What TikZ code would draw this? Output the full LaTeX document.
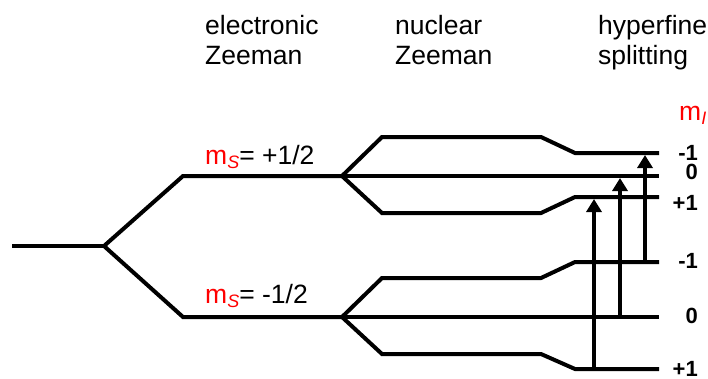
\documentclass[tikz,border=0pt]{standalone}
\usepackage{fontspec}
\setmainfont{Liberation Sans}
\usetikzlibrary{arrows.meta}
\tikzset{
  level/.style={line width=4pt, line cap=butt, line join=miter},
  trans/.style={line width=4pt, -{Triangle[length=13pt,width=15pt]}},
  head/.style={anchor=base west, inner sep=0pt, font=\fontsize{26.5}{30}\selectfont},
  mlab/.style={anchor=base west, inner sep=0pt, font=\fontsize{26.5}{30}\selectfont},
  num/.style={anchor=base east, inner sep=0pt, font=\fontsize{22}{24}\selectfont\bfseries}
}
\newcommand{\msub}[1]{\raisebox{-4pt}{\fontsize{18}{18}\selectfont\itshape #1}}
\begin{document}
\begin{tikzpicture}[x=1pt,y=-1pt]
\useasboundingbox (0,0) rectangle (708,378);
% headers
\node[head] (h1a) at (205,34) {electronic};
\node[head] (h1b) at (205,64) {Zeeman};
\node[head] (h2a) at (395,34) {nuclear};
\node[head] (h2b) at (395,64) {Zeeman};
\node[head] (h3a) at (598,34) {hyperfine};
\node[head] (h3b) at (598,64) {splitting};
% m_I label
\node[mlab, text=red] (mI) at (679,120) {m\msub{I}};
% ground level and electronic Zeeman
\coordinate (g0) at (12,246);
\coordinate (g1) at (104,246);
\draw[level] (g0) -- (g1);
\draw[level] (g1) -- (183,176) -- (342,176);
\draw[level] (g1) -- (183,317) -- (342,317);
\node[mlab] (msu) at (205,164) {\textcolor{red}{m\msub{S}}= +1/2};
\node[mlab] (msd) at (205,303) {\textcolor{red}{m\msub{S}}= -1/2};
% upper manifold
\coordinate (fu) at (342,176);
\draw[level] (fu) -- (382,137) -- (541,137) -- (575,153) -- (659,153);
\draw[level] (fu) -- (659,176);
\draw[level] (fu) -- (382,213) -- (541,213) -- (575,197) -- (659,197);
% lower manifold
\coordinate (fl) at (342,317);
\draw[level] (fl) -- (382,278) -- (541,278) -- (575,262) -- (659,262);
\draw[level] (fl) -- (659,317);
\draw[level] (fl) -- (382,354) -- (541,354) -- (575,369) -- (659,369);
% labels
\node[num] (u1) at (698,160) {-1};
\node[num] (u2) at (698,179) {0};
\node[num] (u3) at (698,210) {+1};
\node[num] (l1) at (698,268) {-1};
\node[num] (l2) at (698,323) {0};
\node[num] (l3) at (698,376) {+1};
% transitions
\coordinate (t1s) at (594,369); \coordinate (t1e) at (594,199);
\coordinate (t2s) at (620,317); \coordinate (t2e) at (620,178);
\coordinate (t3s) at (645,262); \coordinate (t3e) at (645,155);
\draw[trans] (t1s) -- (t1e);
\draw[trans] (t2s) -- (t2e);
\draw[trans] (t3s) -- (t3e);
\end{tikzpicture}
\end{document}
